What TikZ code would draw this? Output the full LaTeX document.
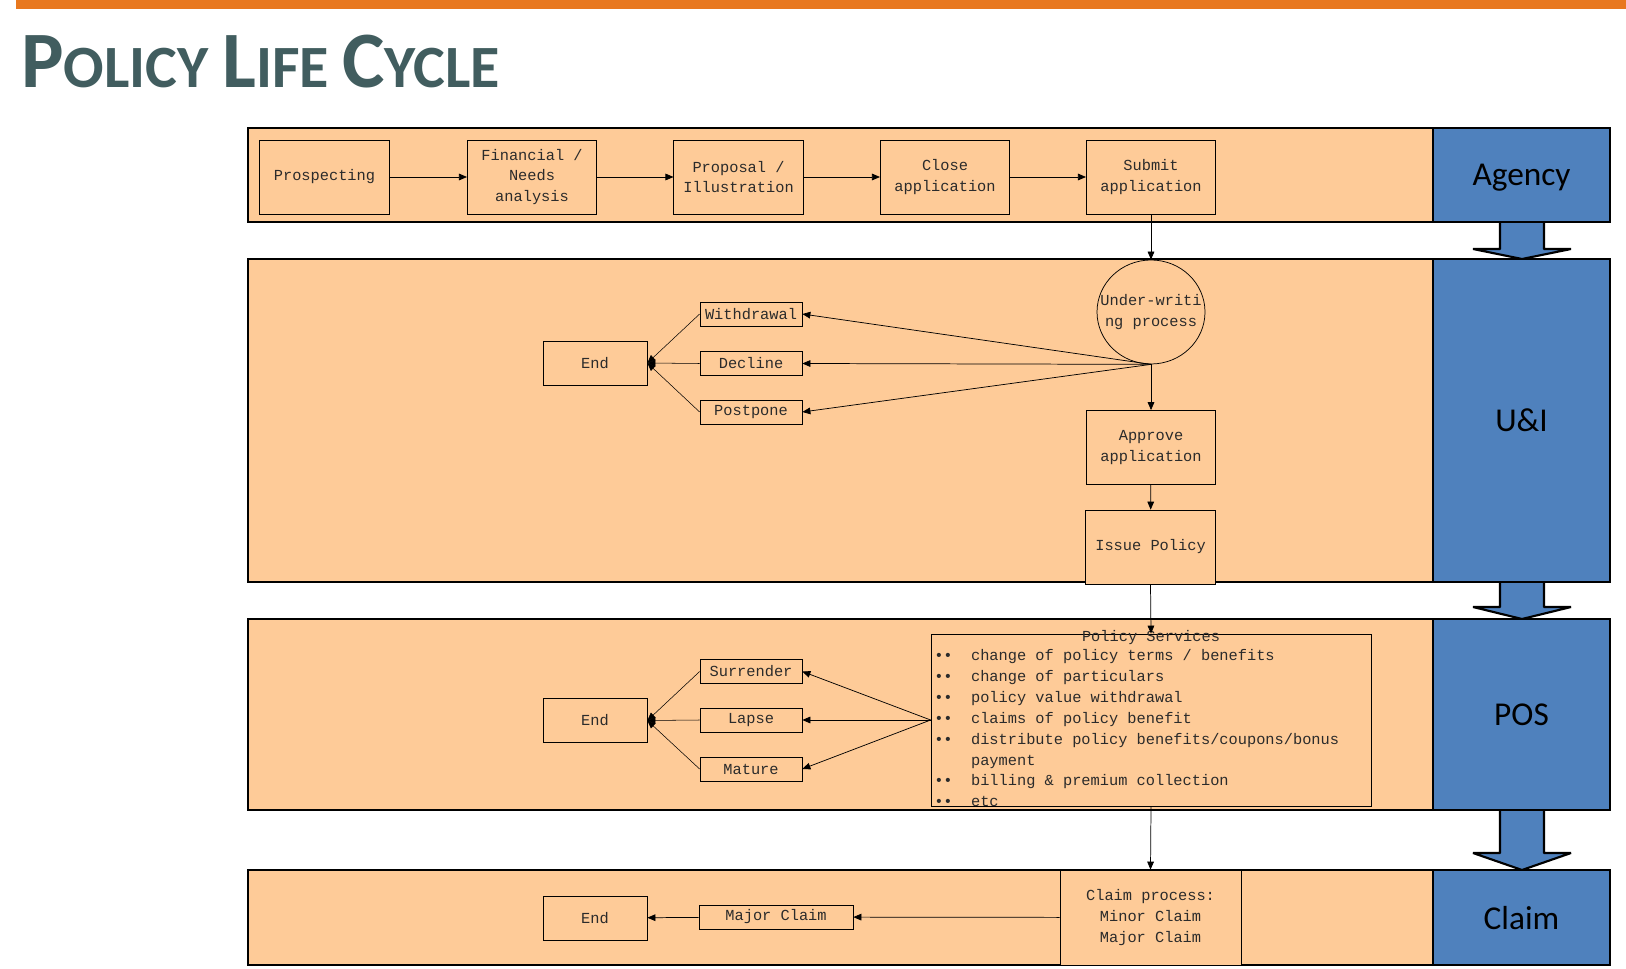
\documentclass[tikz,border=0pt]{standalone}
\usepackage{fontspec}
\usetikzlibrary{arrows.meta, shapes.geometric}
\newfontfamily\boxfont{Liberation Mono}
\newfontfamily\lanefont{Carlito}
\definecolor{peach}{HTML}{FECB98}
\definecolor{laneblue}{HTML}{4F81BD}
\definecolor{slate}{HTML}{415D5F}
\definecolor{topbar}{HTML}{E8781F}
\definecolor{inkgray}{HTML}{2B2B2B}
\newcommand\smcword[2]{{\fontsize{60}{60}\selectfont #1}{\fontsize{45}{45}\selectfont #2}}

\begin{document}
\begin{tikzpicture}[
  x=0.75pt, y=-0.75pt,
  >={Triangle[length=6pt, width=5pt]},
  band/.style={fill=peach, draw=black, line width=1.6pt},
  lane/.style={fill=laneblue, draw=black, line width=1.6pt, inner sep=0pt,
    text depth=0pt, minimum width=132.75pt, font={\lanefont\fontsize{25}{30}\selectfont}},
  fatarrow/.style={fill=laneblue, draw=black, line width=1.6pt, line join=bevel},
  procbox/.style={draw=black, fill=peach, line width=0.55pt, inner sep=0pt,
    align=center, text=inkgray, font={\boxfont\fontsize{11.5}{15.5}\selectfont},
    minimum width=97pt, minimum height=55.5pt},
  smallbox/.style={procbox, minimum width=76.5pt, minimum height=18pt},
  endbox/.style={procbox, minimum width=78pt, minimum height=33pt},
  flow/.style={->, line width=0.55pt},
  merge/.style={->, line width=0.4pt}
]
\useasboundingbox (0,0) rectangle (1626,969);

% ── Header ──
\fill[topbar] (16,0) rectangle (1626,9);
\node[anchor=base west, inner sep=0pt, text=slate,
  font={\lanefont\bfseries\fontsize{45}{45}\selectfont}] (title)
  at (21,88) {\smcword{P}{OLICY} \smcword{L}{IFE} \smcword{C}{YCLE}};

% ── Lane arrows ──
\draw[fatarrow] (1500,215) -- (1500,249) -- (1473,249) -- (1522,259)
  -- (1571,249) -- (1544,249) -- (1544,215) -- cycle;
\draw[fatarrow] (1500,575) -- (1500,607) -- (1473,607) -- (1522,619)
  -- (1571,607) -- (1544,607) -- (1544,575) -- cycle;
\draw[fatarrow] (1500,803) -- (1500,853) -- (1473,853) -- (1522,870)
  -- (1571,853) -- (1544,853) -- (1544,803) -- cycle;

% ── Bands ──
\draw[band] (248,128) rectangle (1433,222);
\draw[band] (248,259) rectangle (1433,582);
\draw[band] (248,619) rectangle (1433,810);
\draw[band] (248,870) rectangle (1433,965);

\node[lane, minimum height=70.5pt] (agency) at (1521.5,175) {Agency};
\node[lane, minimum height=242.25pt] (ui) at (1521.5,420.5) {U\&I};
\node[lane, minimum height=143.25pt] (pos) at (1521.5,714.5) {POS};
\node[lane, minimum height=71.25pt] (claim) at (1521.5,917.5) {Claim};

% ── Agency ──
\node[procbox] (prospect) at (324.5,177) {Prospecting};
\node[procbox] (needs) at (532,177) {Financial /\\Needs\\analysis};
\node[procbox] (proposal) at (738.5,177) {Proposal /\\Illustration};
\node[procbox] (close) at (945,177) {Close\\application};
\node[procbox] (submit) at (1151,177) {Submit\\application};

\draw[flow] (prospect) -- (needs);
\draw[flow] (needs) -- (proposal);
\draw[flow] (proposal) -- (close);
\draw[flow] (close) -- (submit);

% ── Underwriting ──
\node[procbox, ellipse, minimum width=81pt, minimum height=78pt,
  label={[align=center, text=inkgray, font={\boxfont\fontsize{11.5}{15.5}\selectfont}]center:Under-writi\\ng process}]
  (uw) at (1151,312) {};
\node[smallbox] (withdrawal) at (751,314) {Withdrawal};
\node[smallbox] (decline) at (751,363.5) {Decline};
\node[smallbox] (postpone) at (751,412) {Postpone};
\node[endbox] (end1) at (595,363) {End};
\node[procbox] (approve) at (1151,447.5) {Approve\\application};
\node[procbox] (issue) at (1150.5,547) {Issue Policy};

\draw[flow] (submit.south) -- (uw.north);
\draw[flow] (uw.south) -- (withdrawal.east);
\draw[flow] (uw.south) -- (decline.east);
\draw[flow] (uw.south) -- (postpone.east);
\draw[flow] (uw.south) -- (approve.north);
\draw[flow] (approve) -- (issue);
\foreach \n in {withdrawal, decline, postpone}
  \draw[merge] (\n.west) -- (end1.east);

% ── Policy services ──
\node[procbox, minimum width=330pt, minimum height=129pt] (services) at (1151,720) {};
\node[inner sep=0pt, text=inkgray, font={\boxfont\fontsize{11.5}{15.5}\selectfont}] (servtitle)
  at (1151,638) {Policy Services};
\node[anchor=north west, inner sep=0pt, align=left, text=inkgray,
  font={\boxfont\fontsize{11.5}{15.7}\selectfont}] (servlist) at (934,649)
  {••~~change of policy terms / benefits\\
   ••~~change of particulars\\
   ••~~policy value withdrawal\\
   ••~~claims of policy benefit\\
   ••~~distribute policy benefits/coupons/bonus\\
   \phantom{••~~}payment\\
   ••~~billing \& premium collection\\
   ••~~etc};
\node[smallbox] (surrender) at (751,671.5) {Surrender};
\node[smallbox] (lapse) at (751,720) {Lapse};
\node[smallbox] (mature) at (751,769) {Mature};
\node[endbox] (end2) at (595,720.5) {End};

\draw[flow] (issue.south) -- (services.north);
\draw[flow] (services.west) -- (surrender.east);
\draw[flow] (services.west) -- (lapse.east);
\draw[flow] (services.west) -- (mature.east);
\foreach \n in {surrender, lapse, mature}
  \draw[merge] (\n.west) -- (end2.east);

% ── Claim ──
\node[procbox, minimum width=135.75pt, minimum height=71.25pt] (claimproc)
  at (1150.5,917.5) {Claim process:\\Minor Claim\\Major Claim};
\node[smallbox, minimum width=115.5pt] (majorclaim) at (776,917) {Major Claim};
\node[endbox] (end3) at (595,918) {End};

\draw[flow] (services.south) -- (claimproc.north);
\draw[flow] (claimproc) -- (majorclaim);
\draw[flow] (majorclaim) -- (end3);

\end{tikzpicture}
\end{document}
